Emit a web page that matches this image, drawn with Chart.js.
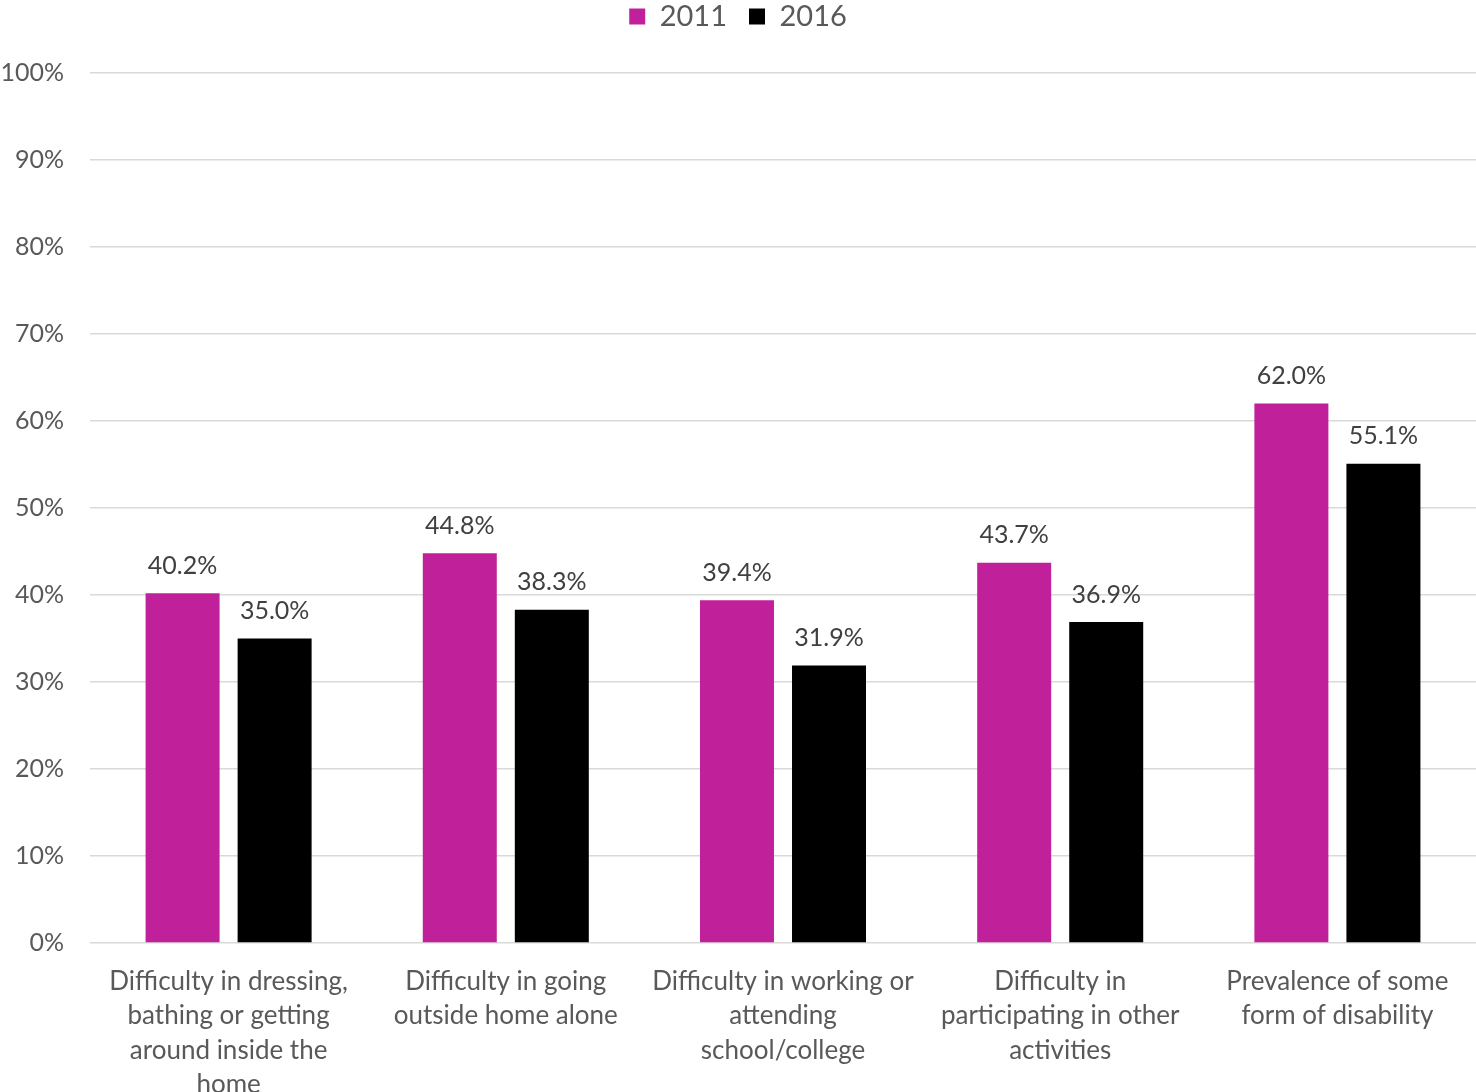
<!DOCTYPE html>
<html>
<head>
<meta charset="utf-8">
<script src="https://cdn.jsdelivr.net/npm/chart.js@4/dist/chart.umd.min.js"></script>
<style>
  html, body { margin: 0; padding: 0; background: #fff; }
  #wrap { width: 1476px; height: 1092px; }
</style>
</head>
<body>
<div id="wrap"><canvas id="chart"></canvas></div>
<script>
const categories = [
    ['Difficulty in dressing,', 'bathing or getting', 'around inside the', 'home'],
    ['Difficulty in going', 'outside home alone'],
    ['Difficulty in working or', 'attending', 'school/college'],
    ['Difficulty in', 'participating in other', 'activities'],
    ['Prevalence of some', 'form of disability']
];
const values2011 = [40.2, 44.8, 39.4, 43.7, 62.0];
const values2016 = [35.0, 38.3, 31.9, 36.9, 55.1];
const seriesNames = ['2011', '2016'];

const font = 'Lato, "Open Sans", sans-serif';
const textColor = '#595959';

// draws the value above each bar
const barLabels = {
    id: 'barLabels',
    afterDatasetsDraw(chart) {
        const ctx = chart.ctx;
        ctx.save();
        ctx.font = '25px ' + font;
        ctx.fillStyle = '#404040';
        ctx.textAlign = 'center';
        ctx.textBaseline = 'bottom';
        chart.data.datasets.forEach((ds, i) => {
            chart.getDatasetMeta(i).data.forEach((bar, j) => {
                ctx.fillText(ds.data[j].toFixed(1) + '%', bar.x, bar.y - 15);
            });
        });
        ctx.restore();
    }
};

// extra room below the legend
const legendGap = {
    id: 'legendGap',
    beforeInit(chart) {
        const fit = chart.legend.fit;
        chart.legend.fit = function() {
            fit.bind(this)();
            this.height += 32;
        };
    }
};

const ctx = document.getElementById('chart').getContext('2d');
const myChart = new Chart(ctx, {
    type: 'bar',
    data: {
        labels: categories,
        datasets: [{
            label: seriesNames[0],
            data: values2011,
            backgroundColor: '#C0209A',
            categoryPercentage: 0.664,
            barPercentage: 0.804
        }, {
            label: seriesNames[1],
            data: values2016,
            backgroundColor: '#000000',
            categoryPercentage: 0.664,
            barPercentage: 0.804
        }]
    },
    options: {
        responsive: true,
        maintainAspectRatio: false,
        animation: false,
        layout: { padding: { top: -20, left: 0, right: 0, bottom: 0 } },
        plugins: {
            legend: {
                position: 'top',
                labels: {
                    font: { family: font, size: 29 },
                    color: textColor,
                    boxWidth: 16,
                    boxHeight: 16,
                    padding: 22
                }
            },
            tooltip: { enabled: false }
        },
        scales: {
            x: {
                grid: { display: false },
                border: { display: false },
                ticks: {
                    font: { family: font, size: 26, lineHeight: 1.31 },
                    color: textColor,
                    maxRotation: 0,
                    autoSkip: false,
                    padding: 14
                },
                afterFit: s => { s.height = 149; }
            },
            y: {
                min: 0,
                max: 100,
                grid: { color: '#d9d9d9', lineWidth: 1.5, drawTicks: false },
                border: { display: false },
                ticks: {
                    stepSize: 10,
                    font: { family: font, size: 25 },
                    color: textColor,
                    padding: 26,
                    callback: v => v + '%'
                },
                afterFit: s => { s.width = 90; }
            }
        }
    },
    plugins: [barLabels, legendGap]
});
</script>
</body>
</html>
